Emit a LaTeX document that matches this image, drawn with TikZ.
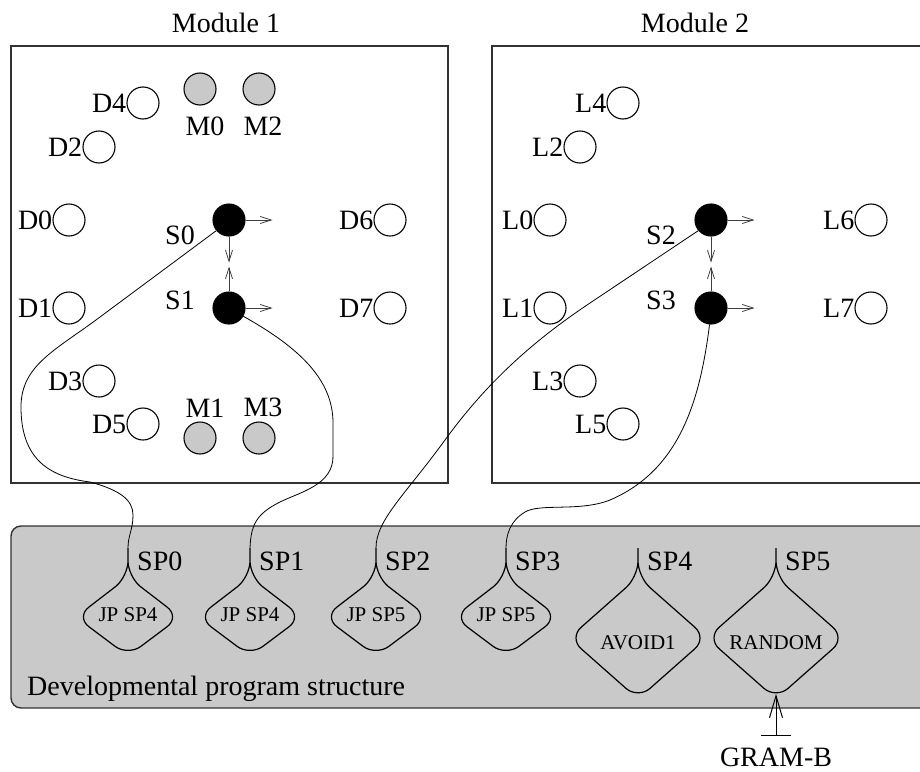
\documentclass[tikz,border=0pt]{standalone}
\usepackage{fontspec}
\setmainfont{Liberation Serif}
\usepackage{xcolor}
\usepackage{tikz}
\usetikzlibrary{arrows.meta, positioning}
\definecolor{panel}{RGB}{201,201,201}
\definecolor{frame}{RGB}{50,50,50}
\tikzset{
    module/.style={draw=frame, line width=1.6pt},
    devbox/.style={draw=frame, line width=1.4pt, fill=panel, rounded corners=10pt},
    port/.style={circle, draw, line width=1.1pt, minimum size=32pt, inner sep=0pt},
    motor/.style={port, fill=panel},
    sensor/.style={port, fill=black},
    lbl/.style={inner sep=0pt, font=\fontsize{28}{30}\selectfont},
    tag/.style={inner sep=0pt, font=\fontsize{21}{23}\selectfont},
    prog/.style={line width=1.2pt, rounded corners=16pt},
    wire/.style={line width=0.8pt},
    sig/.style={-{Straight Barb[length=11pt,width=7pt]}, line width=0.8pt, draw=black!75},
    feed/.style={{Bar[width=30pt]}-{Straight Barb[length=22pt,width=13pt]}, line width=1pt}
}

\begin{document}
\begin{tikzpicture}[x=1pt, y=-1pt, label distance=0pt]
    \useasboundingbox (0,0) rectangle (920,771);
    \clip (0,0) rectangle (920,771);

    % Modules
    \draw[module] (11,46) rectangle (448,483);
    \draw[module] (492,46) rectangle (930,483);
    \node[lbl, anchor=base] (mod1) at (226,32) {Module 1};
    \node[lbl, anchor=base] (mod2) at (695,32) {Module 2};

    % Module 1 devices
    \node[port, label={[lbl]left:D4}] (D4) at (143,103) {};
    \node[port, label={[lbl]left:D2}] (D2) at (99,147) {};
    \node[port, label={[lbl]left:D0}] (D0) at (69,220) {};
    \node[port, label={[lbl]left:D1}] (D1) at (69,308) {};
    \node[port, label={[lbl]left:D3}] (D3) at (99,381) {};
    \node[port, label={[lbl]left:D5}] (D5) at (143,424) {};
    \node[port, label={[lbl]left:D6}] (D6) at (390,220) {};
    \node[port, label={[lbl]left:D7}] (D7) at (390,308) {};
    \node[motor] (M0) at (200,89) {};
    \node[motor] (M2) at (259,89) {};
    \node[motor] (M1) at (200,438) {};
    \node[motor] (M3) at (259,438) {};
    \node[lbl, below=11pt of M0, xshift=5pt] (tM0) {M0};
    \node[lbl, below=11pt of M2, xshift=4pt] (tM2) {M2};
    \node[lbl, above=4pt of M1, xshift=5pt] (tM1) {M1};
    \node[lbl, above=4pt of M3, xshift=4pt] (tM3) {M3};
    \node[sensor] (S0) at (229,220) {};
    \node[sensor] (S1) at (229,308) {};
    \node[lbl] (tS0) at (180,235) {S0};
    \node[lbl] (tS1) at (180,300) {S1};
    \draw[sig] (S0.east) -- ++(27,0);
    \draw[sig] (S1.east) -- ++(27,0);
    \draw[sig] (S0.south) -- ++(0,26);
    \draw[sig] (S1.north) -- ++(0,-25);

    % Module 2 devices
    \node[port, label={[lbl]left:L4}] (L4) at (623,103) {};
    \node[port, label={[lbl]left:L2}] (L2) at (580,147) {};
    \node[port, label={[lbl]left:L0}] (L0) at (550,220) {};
    \node[port, label={[lbl]left:L1}] (L1) at (550,308) {};
    \node[port, label={[lbl]left:L3}] (L3) at (580,381) {};
    \node[port, label={[lbl]left:L5}] (L5) at (623,424) {};
    \node[port, label={[lbl]left:L6}] (L6) at (871,220) {};
    \node[port, label={[lbl]left:L7}] (L7) at (871,308) {};
    \node[sensor] (S2) at (711,220) {};
    \node[sensor] (S3) at (711,308) {};
    \node[lbl] (tS2) at (661,235) {S2};
    \node[lbl] (tS3) at (661,300) {S3};
    \draw[sig] (S2.east) -- ++(27,0);
    \draw[sig] (S3.east) -- ++(27,0);
    \draw[sig] (S2.south) -- ++(0,26);
    \draw[sig] (S3.north) -- ++(0,-25);

    % Program structure
    \draw[devbox] (11,526) rectangle (940,708);
    \node[lbl, anchor=base west] (title) at (27,695) {Developmental program structure};

    \coordinate (sp0) at (128,548);
    \coordinate (sp1) at (250,548);
    \coordinate (sp2) at (376,548);
    \coordinate (sp3) at (506,548);
    \coordinate (sp4) at (638,548);
    \coordinate (sp5) at (776,548);
    \coordinate (bot5) at (776,694);

    \draw[prog] (sp0) -- (128,577) -- (180,617) -- (128,656) -- (76,617) -- (128,577) -- (sp0);
    \draw[prog] (sp1) -- (250,577) -- (302,617) -- (250,656) -- (198,617) -- (250,577) -- (sp1);
    \draw[prog] (sp2) -- (376,577) -- (428,617) -- (376,656) -- (324,617) -- (376,577) -- (sp2);
    \draw[prog] (sp3) -- (506,577) -- (558,617) -- (506,656) -- (454,617) -- (506,577) -- (sp3);
    \draw[prog] (sp4) -- (638,577) -- (707,638) -- (638,699) -- (569,638) -- (638,577) -- (sp4);
    \draw[prog] (sp5) -- (776,577) -- (845,638) -- (776,699) -- (707,638) -- (776,577) -- (sp5);

    \node[tag] (jp0) at (128,615) {JP SP4};
    \node[tag] (jp1) at (250,615) {JP SP4};
    \node[tag] (jp2) at (376,615) {JP SP5};
    \node[tag] (jp3) at (506,615) {JP SP5};
    \node[tag] (jp4) at (638,643) {AVOID1};
    \node[tag] (jp5) at (776,643) {RANDOM};

    \node[lbl, below right=4pt and 9pt of sp0] (lsp0) {SP0};
    \node[lbl, below right=4pt and 9pt of sp1] (lsp1) {SP1};
    \node[lbl, below right=4pt and 9pt of sp2] (lsp2) {SP2};
    \node[lbl, below right=4pt and 9pt of sp3] (lsp3) {SP3};
    \node[lbl, below right=4pt and 9pt of sp4] (lsp4) {SP4};
    \node[lbl, below right=4pt and 9pt of sp5] (lsp5) {SP5};

    % Wiring
    \draw[wire] (S0.220) -- (100,317) .. controls (56,350) and (21,365) .. (21,407)
        .. controls (21,460) and (50,477) .. (90,482) .. controls (120,490) and (133,500) .. (133,515)
        .. controls (133,530) and (128,535) .. (sp0);
    \draw[wire] (S1.330) .. controls (300,348) and (333,380) .. (333,423) -- (333,455)
        .. controls (334,485) and (300,492) .. (280,502) .. controls (256,514) and (251,525) .. (sp1);
    \draw[wire] (S2.220) -- (590,303) .. controls (530,343) and (485,385) .. (445,440)
        .. controls (405,495) and (376,520) .. (sp2);
    \draw[wire] (S3.265) .. controls (700,400) and (680,470) .. (610,500)
        .. controls (580,512) and (540,503) .. (525,512) .. controls (510,521) and (506,535) .. (sp3);

    % Grammar input
    \node[lbl, anchor=base] (gram) at (776,766) {GRAM-B};
    \coordinate[above=11pt of gram] (gin);
    \draw[feed] (gin) -- (bot5);
\end{tikzpicture}
\end{document}
